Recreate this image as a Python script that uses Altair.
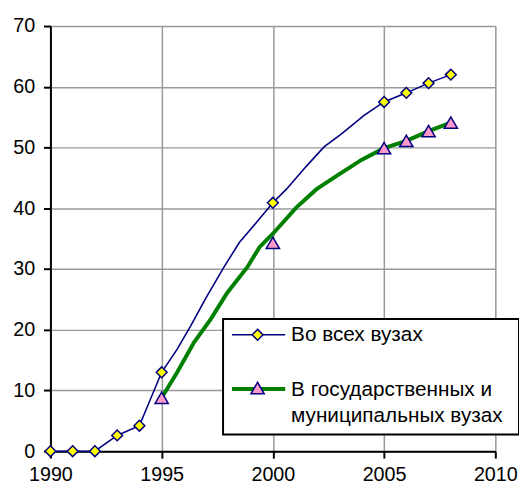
import altair as alt
import pandas as pd

# Line paths (years, values)
all_years = [1990, 1991, 1992, 1993, 1994, 1995, 1995.7, 1996.3, 1997, 1997.8, 1998.5, 1999.25,
             2000, 2000.6, 2001.5, 2002.3, 2003.1, 2004.1, 2005, 2006, 2007, 2008]
all_vals = [0, 0, 0, 2.6, 4.2, 13.0, 16.8, 20.6, 25.3, 30.3, 34.4, 37.6,
            40.9, 43.1, 46.9, 50.1, 52.3, 55.3, 57.5, 59.0, 60.6, 62.0]

state_years = [1995, 1995.7, 1996.45, 1997.2, 1997.95, 1998.85, 1999.4, 2000, 2001.05,
               2001.95, 2002.85, 2004, 2005, 2006, 2007, 2008]
state_vals = [8.8, 13.0, 17.9, 21.7, 26.1, 30.3, 33.6, 35.8, 40.1,
              43.1, 45.3, 48.0, 49.9, 51.1, 52.7, 54.1]

# Marker points
all_mk_years = [1990, 1991, 1992, 1993, 1994, 1995, 2000, 2005, 2006, 2007, 2008]
all_mk_vals = [0, 0, 0, 2.6, 4.2, 13.0, 40.9, 57.5, 59.0, 60.6, 62.0]
state_mk_years = [1995, 2000, 2005, 2006, 2007, 2008]
state_mk_vals = [8.8, 34.3, 49.9, 51.1, 52.7, 54.1]

label_all = "Во всех вузах"
label_state = "В государственных и\nмуниципальных вузах"

x_ticks = [1990, 1995, 2000, 2005, 2010]
y_ticks = [0, 10, 20, 30, 40, 50, 60, 70]

FONT = "Liberation Sans"
NAVY = "#000080"
GREEN = "#008000"
YELLOW = "#FFFF00"
PINK = "#FF99CC"

df_all = pd.DataFrame({"year": all_years, "v": all_vals})
df_state = pd.DataFrame({"year": state_years, "v": state_vals})
df_all_mk = pd.DataFrame({"year": all_mk_years, "v": all_mk_vals})
df_state_mk = pd.DataFrame({"year": state_mk_years, "v": state_mk_vals})

xs = alt.Scale(domain=[1990, 2010], nice=False, zero=False)
ys = alt.Scale(domain=[0, 70], nice=False)

xax = alt.Axis(values=x_ticks, format="d", title=None, grid=True, gridColor="#999999",
               gridWidth=1.5, gridOpacity=1, domainColor="black", domainWidth=2,
               tickColor="black", tickWidth=2, tickSize=7, labelPadding=7,
               labelFont=FONT, labelFontSize=20, labelColor="black", labelFlush=False,
               labelOverlap=False)
yax = alt.Axis(values=y_ticks, title=None, grid=True, gridColor="#999999",
               gridWidth=1.5, gridOpacity=1, domainColor="black", domainWidth=2,
               tickColor="black", tickWidth=2, tickSize=7, labelPadding=9,
               labelFont=FONT, labelFontSize=20, labelColor="black")

X = alt.X("year:Q", scale=xs, axis=xax)
Y = alt.Y("v:Q", scale=ys, axis=yax)

line_all = alt.Chart(df_all).mark_line(color=NAVY, strokeWidth=1.6).encode(x=X, y=Y)
line_state = alt.Chart(df_state).mark_line(color=GREEN, strokeWidth=4).encode(x=X, y=Y)
pts_all = alt.Chart(df_all_mk).mark_point(shape="diamond", size=120, filled=True, fill=YELLOW,
                                          stroke=NAVY, strokeWidth=1.5, opacity=1).encode(x=X, y=Y)
pts_state = alt.Chart(df_state_mk).mark_point(shape="triangle-up", size=180, filled=True, fill=PINK,
                                              stroke=NAVY, strokeWidth=1.5, opacity=1).encode(x=X, y=Y)

one = pd.DataFrame({"a": [0]})
leg_box = alt.Chart(one).mark_rect(fill="white", stroke="black", strokeWidth=2).encode(
    x=alt.value(175), x2=alt.value(475), y=alt.value(297), y2=alt.value(414))
leg_rule1 = alt.Chart(one).mark_rule(color=NAVY, strokeWidth=1.6).encode(
    x=alt.value(184), x2=alt.value(238), y=alt.value(313))
leg_rule2 = alt.Chart(one).mark_rule(color=GREEN, strokeWidth=4).encode(
    x=alt.value(184), x2=alt.value(238), y=alt.value(368))
leg_pt1 = alt.Chart(one).mark_point(shape="diamond", size=120, filled=True, fill=YELLOW,
                                    stroke=NAVY, strokeWidth=1.5, opacity=1).encode(
    x=alt.value(210), y=alt.value(313))
leg_pt2 = alt.Chart(one).mark_point(shape="triangle-up", size=180, filled=True, fill=PINK,
                                    stroke=NAVY, strokeWidth=1.5, opacity=1).encode(
    x=alt.value(210), y=alt.value(367))
leg_t1 = alt.Chart(one).mark_text(text=label_all, align="left", baseline="middle", font=FONT,
                                  fontSize=21, color="black").encode(
    x=alt.value(244), y=alt.value(313))
leg_t2 = alt.Chart(one).mark_text(text=label_state, align="left", baseline="middle", font=FONT,
                                  fontSize=21, color="black", lineBreak="\n", lineHeight=26).encode(
    x=alt.value(244), y=alt.value(369))

chart = alt.layer(line_all, line_state, pts_all, pts_state, leg_box, leg_rule1, leg_rule2,
                  leg_pt1, leg_pt2, leg_t1, leg_t2).properties(
    width=451, height=431,
    autosize=alt.AutoSizeParams(type="none"),
    padding={"left": 43, "top": 15, "right": 24, "bottom": 34},
).configure_view(stroke=None).configure(background="white")

chart.save("out.html", embed_options={"renderer": "svg", "actions": False})
